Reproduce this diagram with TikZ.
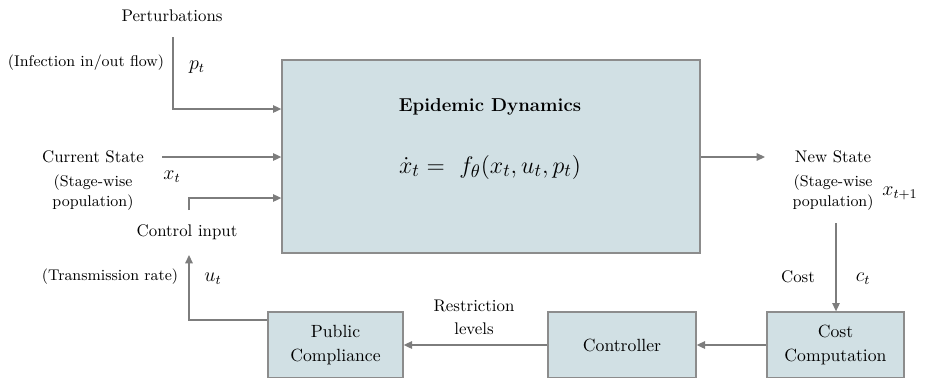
\documentclass[tikz,border=0pt]{standalone}
\usetikzlibrary{arrows.meta,positioning}

\definecolor{boxfill}{RGB}{209,224,228}
\definecolor{boxline}{RGB}{140,140,140}
\definecolor{linegray}{RGB}{125,125,125}

\tikzset{
  block/.style={draw=boxline, fill=boxfill, line width=0.8pt, align=center,
    font=\fontsize{10.6}{14.4}\selectfont},
  arr/.style={draw=linegray, line width=0.8pt, -{Triangle[length=5pt,width=4.5pt]}},
  lbl/.style={font=\fontsize{10.1}{13.8}\selectfont, align=center},
  note/.style={font=\fontsize{9.3}{12}\selectfont, align=center},
  sym/.style={font=\fontsize{12}{14}\selectfont}
}

\begin{document}
\begin{tikzpicture}[x=0.6pt,y=-0.6pt]
        \useasboundingbox (0,0) rectangle (929,377);
        \clip (0,0) rectangle (929,377);

        %blocks
        \node[block, minimum width=250.8pt, minimum height=115.8pt] (dyn) at (491,156.5) {};
        \node[align=center, font=\fontsize{11.2}{37}\selectfont] (title) at (490,139)
            {\textbf{Epidemic Dynamics}\\{\fontsize{15.5}{17}\selectfont$\dot{x}_t =\ f_\theta(x_t, u_t, p_t)$}};
        \node[block, minimum width=81pt, minimum height=39.6pt] (pc) at (335.5,345) {Public\\Compliance};
        \node[block, minimum width=88.8pt, minimum height=39.6pt] (ctl) at (622,345) {Controller};
        \node[block, minimum width=82.2pt, minimum height=39.6pt] (cc) at (835.5,345) {Cost\\Computation};

        %labels
        \node[lbl] (pert) at (172,16) {Perturbations};
        \node[note] (pertnote) at (86,63) {(Infection in/out flow)};
        \node[sym] (p) at (197,67) {$p_t$};
        \node[lbl] (cur) at (93,157) {Current State};
        \node[note] (curnote) at (93,193) {(Stage-wise\\population)};
        \node[sym] (x) at (172,177) {$x_t$};
        \node[lbl] (ctrl) at (187,232) {Control input};
        \node[note] (ctrlnote) at (110,277) {(Transmission rate)};
        \node[sym] (u) at (213,279) {$u_t$};
        \node[lbl] (new) at (833,157) {New State};
        \node[note] (newnote) at (833,193) {(Stage-wise\\population)};
        \node[sym] (xn) at (900,193) {$x_{t+1}$};
        \node[lbl] (cost) at (798,277) {Cost};
        \node[sym] (c) at (863,279) {$c_t$};
        \node[lbl] (restr) at (474,317) {Restriction\\levels};

        %free ends
        \coordinate (pstart) at (173,37);
        \coordinate (xstart) at (162,157);
        \coordinate (ustart) at (189,210);
        \coordinate (uend) at (189,255);
        \coordinate (out) at (765,157);
        \coordinate (cstart) at (836,223);

        %connectors
        \draw[arr] (pstart) |- (dyn.west |- 0,109);
        \draw[arr] (xstart) -- (dyn.west |- xstart);
        \draw[arr] (ustart) |- (dyn.west |- 0,198);
        \draw[arr] (pc.west |- 0,320) -| (uend);
        \draw[arr] (dyn.east |- out) -- (out);
        \draw[arr] (cstart) -- (cstart |- cc.north);
        \draw[arr] (cc.west) -- (ctl.east);
        \draw[arr] (ctl.west) -- (pc.east);

\end{tikzpicture}
\end{document}
